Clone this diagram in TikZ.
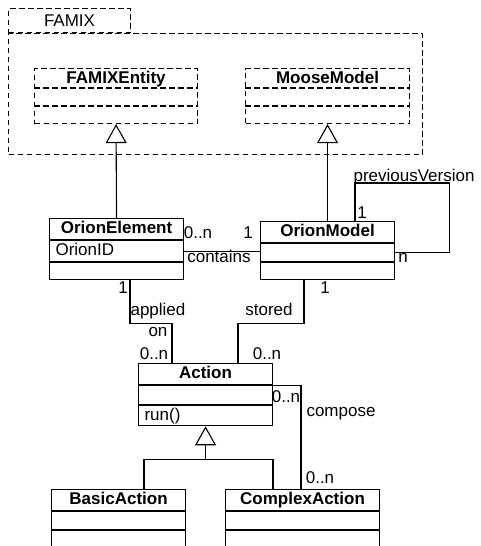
\documentclass[tikz,border=0pt]{standalone}
\usepackage{fontspec}
\setmainfont{Liberation Sans}
\usepackage{tikz}
\usetikzlibrary{arrows.meta, positioning}

\begin{document}
\begin{tikzpicture}[x=1pt, y=-1pt, line width=1.1pt, font=\fontsize{17}{20}\selectfont,
      pkg/.style={dash pattern=on 5.5pt off 3.5pt},
      title/.style={anchor=north west, inner sep=0pt, minimum height=21, text height=12.5pt, text depth=3.5pt, font=\fontsize{17}{20}\selectfont\bfseries},
      head/.style={title, draw},
      part/.style={draw, anchor=north west, inner ysep=0pt, inner xsep=6pt, align=left, text height=12.5pt, text depth=3.5pt},
      lbl/.style={inner sep=0pt, text height=12pt, text depth=0pt},
      gen/.style={-{Triangle[open, length=19pt, width=21pt]}}]
      \useasboundingbox (0,0) rectangle (480,546);

      \node[draw, pkg, anchor=north west, inner sep=0pt, minimum width=122, minimum height=24] (famixtab) at (8,8) {FAMIX};
      \node[draw, pkg, anchor=north west, inner sep=0pt, minimum width=414, minimum height=121] (famix) at (famixtab.south west) {};

      \node[draw, pkg, anchor=north west, inner sep=0pt, minimum width=163, minimum height=55] (fe) at (34,68) {};
      \node[title, minimum width=163, minimum height=20] (fe-name) at (fe.north west) {FAMIXEntity};
      \draw[pkg] ([yshift=-20pt]fe.north west) -- ([yshift=-20pt]fe.north east);
      \draw[pkg] ([yshift=-38pt]fe.north west) -- ([yshift=-38pt]fe.north east);

      \node[draw, pkg, anchor=north west, inner sep=0pt, minimum width=164, minimum height=55] (mm) at (245,68) {};
      \node[title, minimum width=164, minimum height=20] (mm-name) at (mm.north west) {MooseModel};
      \draw[pkg] ([yshift=-20pt]mm.north west) -- ([yshift=-20pt]mm.north east);
      \draw[pkg] ([yshift=-38pt]mm.north west) -- ([yshift=-38pt]mm.north east);

      \node[head, minimum width=134] (oe) at (49,218) {OrionElement};
      \node[part, text width=122, minimum height=21] (oe-attr) at (oe.south west) {OrionID};
      \node[part, text width=122, minimum height=17] (oe-ops) at (oe-attr.south west) {};

      \node[head, minimum width=134] (om) at (260,221) {OrionModel};
      \node[part, text width=122, minimum height=18] (om-attr) at (om.south west) {};
      \node[part, text width=122, minimum height=17] (om-ops) at (om-attr.south west) {};

      \node[head, minimum width=134] (act) at (138,363) {Action};
      \node[part, text width=122, minimum height=19] (act-attr) at (act.south west) {};
      \node[part, text width=122, minimum height=20] (act-ops) at (act-attr.south west) {run()};

      \node[head, minimum width=134] (ba) at (51,489) {BasicAction};
      \node[part, text width=122, minimum height=18] (ba-attr) at (ba.south west) {};
      \node[part, text width=122, minimum height=17] (ba-ops) at (ba-attr.south west) {};

      \node[head, minimum width=154] (ca) at (225,489) {ComplexAction};
      \node[part, text width=142, minimum height=18] (ca-attr) at (ca.south west) {};
      \node[part, text width=142, minimum height=17] (ca-ops) at (ca-attr.south west) {};

      \draw[gen] (oe.north) -- (fe.south);
      \draw[gen] (om.north) -- (mm.south);
      \draw (oe-attr.east) -- (oe-attr.east -| om-attr.west);
      \draw ([xshift=95pt]om.north west) -- ++(0,-38) -| ([xshift=54pt]om-attr.east) -- (om-attr.east);
      \draw ([xshift=81pt]oe-ops.south west) -- ++(0,43) -| ([xshift=34pt]act.north west);
      \draw ([xshift=44pt]om-ops.south west) -- ++(0,43) -| ([xshift=100pt]act.north west);
      \draw (act.south east) -| ([xshift=76pt]ca.north west);
      \coordinate (join) at ([yshift=-33pt]act-ops.south);
      \draw[gen] (join) -- (act-ops.south);
      \draw ([xshift=93pt]ba.north west) |- (join) -| ([xshift=48pt]ca.north west);

      \node[lbl, anchor=base west] (pv-name) at (353,181) {previousVersion};
      \node[lbl] (pv-1) at (362,212) {1};
      \node[lbl] (pv-n) at (403,256) {n};
      \node[lbl] (ct-0n) at (198,232) {0..n};
      \node[lbl] (ct-1) at (248,232) {1};
      \node[lbl] (ct-name) at (219,256) {contains};
      \node[lbl] (ap-1) at (123,287) {1};
      \node[lbl] (ap-name) at (158,309) {applied};
      \node[lbl] (ap-on) at (158,330) {on};
      \node[lbl] (ap-0n) at (154,353) {0..n};
      \node[lbl] (st-1) at (325,287) {1};
      \node[lbl] (st-name) at (269,309) {stored};
      \node[lbl] (st-0n) at (267,353) {0..n};
      \node[lbl] (cp-0n-a) at (286,396) {0..n};
      \node[lbl] (cp-name) at (341,410) {compose};
      \node[lbl] (cp-0n-b) at (320,477) {0..n};
    \end{tikzpicture}
\end{document}
